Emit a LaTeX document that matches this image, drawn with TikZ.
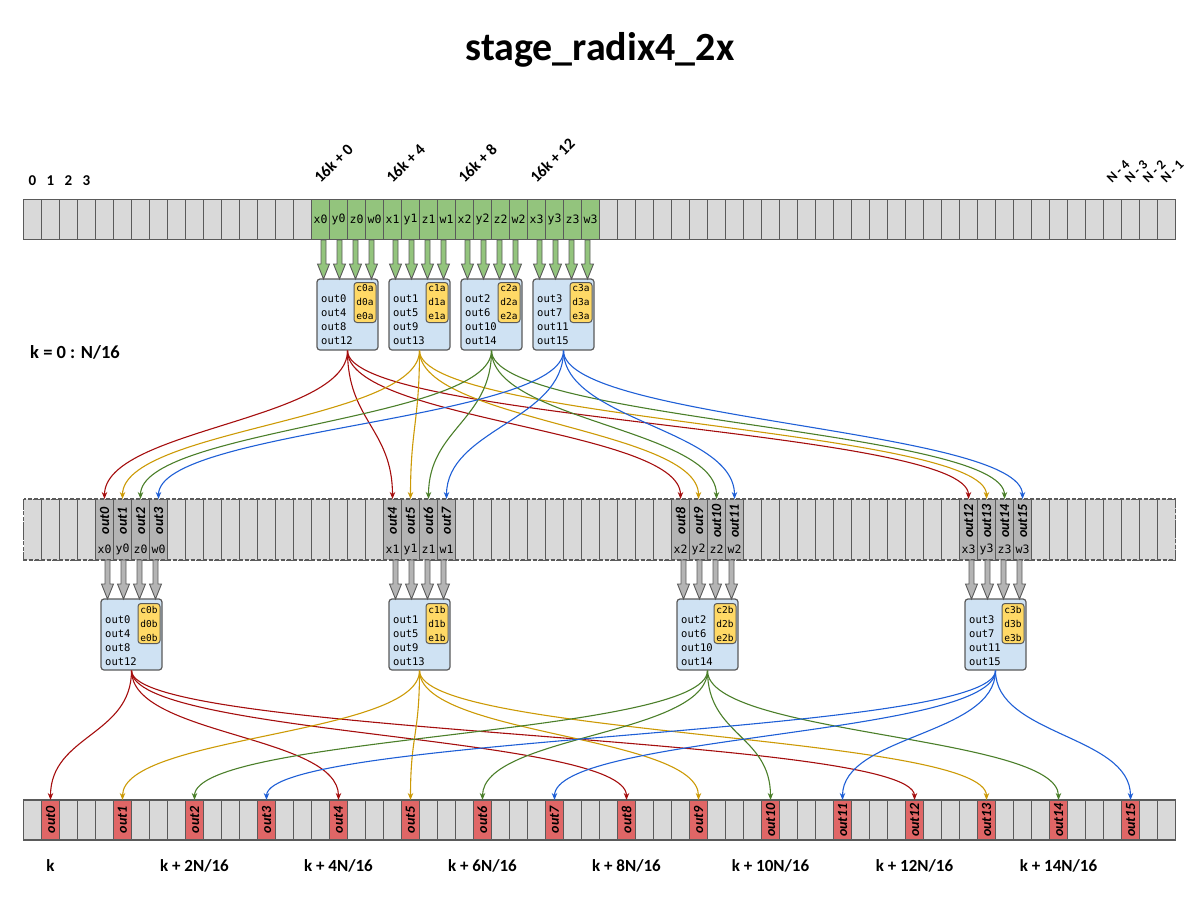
\documentclass[tikz,border=0pt]{standalone}
\usepackage{fontspec}
\setmainfont{Carlito}
\newfontfamily\monofont{DejaVu Sans Mono}
\usetikzlibrary{arrows.meta,calc}
\definecolor{cellgray}{HTML}{D9D9D9}
\definecolor{edgegray}{HTML}{5A5A5A}
\definecolor{cellgreen}{HTML}{93C47D}
\definecolor{celldark}{HTML}{B4B4B4}
\definecolor{cellred}{HTML}{E06666}
\definecolor{boxblue}{HTML}{CFE2F3}
\definecolor{boxorange}{HTML}{FFD966}
\definecolor{cred}{HTML}{A50E0E}
\definecolor{cgold}{HTML}{CC9A06}
\definecolor{cgreen}{HTML}{4B7F2A}
\definecolor{cblue}{HTML}{1F5FD6}
\newcommand\blockarrow[4]{%
  \filldraw[blockar, fill=#4] ({#1-2.5},#2) -- ({#1+2.5},#2) -- ({#1+2.5},{#3-15}) -- ({#1+6},{#3-15}) -- ({#1},#3) -- ({#1-6},{#3-15}) -- ({#1-2.5},{#3-15}) -- cycle;}
\begin{document}
\begin{tikzpicture}[x=1pt,y=-1pt,
  cell/.style={draw=edgegray, line width=1pt, minimum width=18pt, minimum height=40pt, inner sep=0pt, outer sep=0pt, fill=cellgray},
  mcell/.style={cell, minimum height=61pt, dash pattern=on 3pt off 2pt},
  mono/.style={font=\monofont\fontsize{11.5}{13}\selectfont, inner sep=0pt},
  rotlab/.style={font=\bfseries\itshape\fontsize{14}{16}\selectfont, rotate=90, inner sep=0pt},
  bfly/.style={draw=edgegray, line width=1.2pt, fill=boxblue, rounded corners=3pt, minimum width=61pt, minimum height=71pt, inner sep=0pt},
  orng/.style={draw=edgegray, line width=1pt, fill=boxorange, rounded corners=3pt, minimum width=22pt, minimum height=40pt, inner sep=0pt, align=center, font=\monofont\fontsize{9.5}{14}\selectfont},
  boxtxt/.style={font=\monofont\fontsize{10.5}{12}\selectfont, inner sep=0pt, anchor=west},
  conn/.style={line width=1.1pt, -{Stealth[length=7pt,width=5.5pt]}},
  blockar/.style={draw=edgegray, line width=0.9pt, line join=miter},
  lbl/.style={font=\bfseries\fontsize{17}{20}\selectfont, inner sep=0pt},
  outerline/.style={draw=edgegray, line width=1.5pt}
]
\useasboundingbox (0,0) rectangle (1200,900);

% title
\node[font=\bfseries\fontsize{40}{46}\selectfont, inner sep=0pt] (title) at (600,50) {stage\_radix4\_2x};

% top array
\foreach \i in {0,...,63}{
  \ifnum\i<16 \def\f{cellgray}\else\ifnum\i>31 \def\f{cellgray}\else\def\f{cellgreen}\fi\fi
  \node[cell, fill=\f] (t\i) at ({32.5+18*\i},219.5) {};
}
\draw[outerline] (t0.north west) rectangle (t63.south east);
\foreach \lab [count=\j from 16] in {x0,y0,z0,w0,x1,y1,z1,w1,x2,y2,z2,w2,x3,y3,z3,w3}
  \node[mono] (tl\j) at (t\j) {\lab};

% labels above top array
\foreach \i in {0,...,3}
  \node[font=\bfseries\fontsize{15}{17}\selectfont, inner sep=0pt] (idx\i) at ({32.5+18*\i},181) {\i};
\foreach \g/\v in {0/0,1/4,2/8,3/12}
  \node[font=\bfseries\fontsize{16}{18}\selectfont, inner sep=0pt, rotate=45, anchor=base west] (off\g) at ({320.5+72*\g},184) {16k + \v};
\foreach \j/\v in {0/4,1/3,2/2,3/1}
  \node[font=\bfseries\fontsize{13.5}{15}\selectfont, inner sep=0pt, rotate=45, anchor=base west] (nm\j) at ({1112+18*\j},184) {N - \v};

\node[lbl, font=\bfseries\fontsize{18.5}{21}\selectfont, anchor=west] (krange) at (30,352) {k = 0 : N/16};

% first row of butterflies
\foreach \g in {0,...,3}{
  \node[bfly] (A\g) at ({347.5+72*\g},314.5) {};
  \node[orng, anchor=north east] (Ao\g) at ({347.5+72*\g+29},282) {c\g a\\d\g a\\e\g a};
  \foreach \l in {0,...,3}{
    \pgfmathtruncatemacro\o{\g+4*\l}
    \node[boxtxt] (At\g\l) at ({347.5+72*\g-26.5},{299+14*\l}) {out\o};
  }
  \foreach \j in {0,...,3}{
    \blockarrow{347.5+72*\g-24+16*\j}{240}{279}{cellgreen}
  }
}

% middle array
\foreach \i in {0,...,63}{
  \pgfmathtruncatemacro\r{mod(\i,16)}
  \ifnum\r<4 \def\f{cellgray}\else\ifnum\r>7 \def\f{cellgray}\else\def\f{celldark}\fi\fi
  \node[mcell, fill=\f] (m\i) at ({32.5+18*\i},529.5) {};
}
\draw[outerline, dash pattern=on 4pt off 2pt] (m0.north west) rectangle (m63.south east);
\foreach \g in {0,...,3}{
  \foreach \j/\c in {0/x,1/y,2/z,3/w}{
    \pgfmathtruncatemacro\i{4+16*\g+\j}
    \pgfmathtruncatemacro\n{4*\g+\j}
    \node[rotlab] (ml\i) at ({32.5+18*\i},521) {out\n};
    \node[mono] (mx\i) at ({32.5+18*\i},549) {\c\g};
  }
}

% second row of butterflies
\foreach \g in {0,...,3}{
  \node[bfly] (B\g) at ({131.5+288*\g},634.5) {};
  \node[orng, anchor=north east] (Bo\g) at ({131.5+288*\g+29},603) {c\g b\\d\g b\\e\g b};
  \foreach \l in {0,...,3}{
    \pgfmathtruncatemacro\o{\g+4*\l}
    \node[boxtxt] (Bt\g\l) at ({131.5+288*\g-26.5},{620+14*\l}) {out\o};
  }
  \foreach \j in {0,...,3}{
    \blockarrow{131.5+288*\g-24+16*\j}{560}{599}{celldark}
  }
}

% bottom array
\foreach \i in {0,...,63}{
  \pgfmathtruncatemacro\r{mod(\i,4)}
  \ifnum\r=1 \def\f{cellred}\else\def\f{cellgray}\fi
  \node[cell, fill=\f] (b\i) at ({32.5+18*\i},820) {};
}
\draw[outerline] (b0.north west) rectangle (b63.south east);
\foreach \n in {0,...,15}{
  \pgfmathtruncatemacro\i{1+4*\n}
  \node[rotlab] (bl\i) at ({32.5+18*\i},820) {out\n};
}

% connectors stage 1
\foreach \g/\col in {0/cred,1/cgold,2/cgreen,3/cblue}{
  \foreach \k in {0,...,3}{
    \pgfmathtruncatemacro\t{4+\g+16*\k}
    \draw[conn, \col] (A\g.south) .. controls +(0,70) and +(0,-70) .. (m\t.north);
  }
}
% connectors stage 2
\foreach \g/\col in {0/cred,1/cgold,2/cgreen,3/cblue}{
  \foreach \k in {0,...,3}{
    \pgfmathtruncatemacro\t{1+4*\g+16*\k}
    \draw[conn, \col] (B\g.south) .. controls +(0,65) and +(0,-65) .. (b\t.north);
  }
}

% bottom labels
\node[lbl] (kb0) at (50.5,866) {k};
\foreach \n in {1,...,7}{
  \pgfmathtruncatemacro\m{2*\n}
  \node[lbl] (kb\n) at ({50.5+144*\n},866) {k + \m N/16};
}
\end{tikzpicture}
\end{document}
